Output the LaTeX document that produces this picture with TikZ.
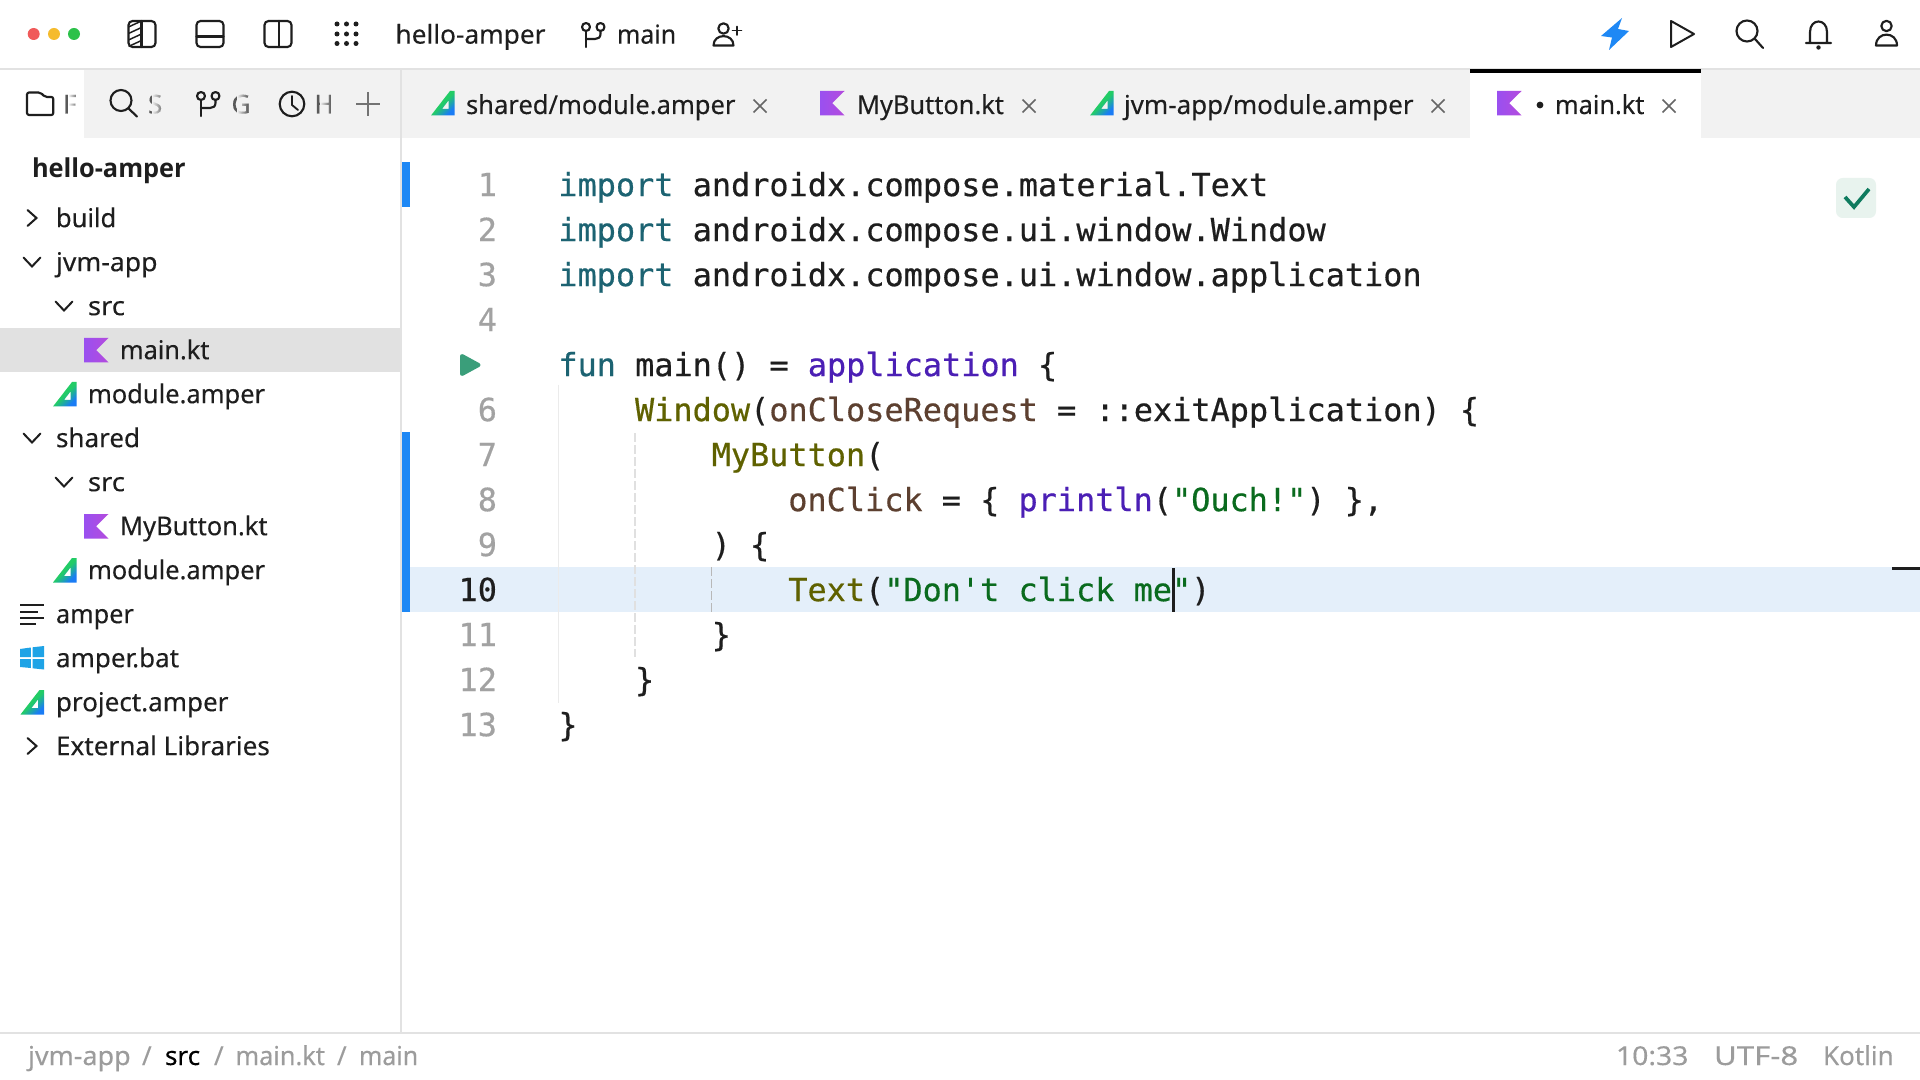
\documentclass[tikz,border=0pt]{standalone}
\usepackage{graphicx}
\usepackage{fontspec}
\usetikzlibrary{fadings}
\setmainfont{Noto Sans}
\newfontfamily\uifont{Noto Sans}[FakeBold=0.2]
\newfontfamily\uibold{Open Sans}
\newfontfamily\codefont{DejaVu Sans Mono}[FakeBold=0.5]
\definecolor{tabbg}{HTML}{F2F2F2}
\definecolor{sep}{HTML}{E2E2E2}
\definecolor{ink}{HTML}{1E1E1E}
\definecolor{gray1}{HTML}{9C9C9C}
\definecolor{lineno}{HTML}{A2A2A2}
\definecolor{barblue}{HTML}{1E88F5}
\definecolor{band}{HTML}{E4EFFA}
\definecolor{selrow}{HTML}{E1E1E1}
\definecolor{kw}{HTML}{1C6372}
\definecolor{fn}{HTML}{4B1FB5}
\definecolor{cl}{HTML}{5F6100}
\definecolor{pm}{HTML}{5D4030}
\definecolor{st}{HTML}{0A6B1E}
\definecolor{agreen}{HTML}{22CC66}
\definecolor{ablue}{HTML}{1A7CF5}
\definecolor{HKa}{HTML}{9A50F0}
\definecolor{HKb}{HTML}{B44BDD}
\definecolor{tlred}{HTML}{F05A5A}
\definecolor{tlyel}{HTML}{F5BB2D}
\definecolor{tlgrn}{HTML}{2CC14A}
\definecolor{winblue}{HTML}{1EA3E6}
\definecolor{rungreen}{HTML}{3A9E7A}
\definecolor{okbg}{HTML}{E8F3EE}
\definecolor{okfg}{HTML}{0F7B5F}
\pgfdeclareverticalshading{amp}{100bp}{color(0bp)=(ablue); color(27bp)=(ablue); color(38bp)=(agreen!50!ablue); color(50bp)=(agreen); color(100bp)=(agreen)}
\tikzset{
  uitext/.style={anchor=base west,inner sep=0pt,outer sep=0pt,text=ink,font=\uifont\fontsize{19.5}{24}\selectfont},
  codetext/.style={anchor=base west,inner sep=0pt,outer sep=0pt,text=ink,font=\codefont\fontsize{23.9}{28}\selectfont\frenchspacing},
  numtext/.style={anchor=base east,inner sep=0pt,outer sep=0pt,text=lineno,font=\codefont\fontsize{23.9}{28}\selectfont},
  icon/.style={draw=ink,line width=1.6pt,line join=round,line cap=round},
  chev/.style={draw=ink,line width=1.5pt,line join=miter,line cap=round},
  closex/.style={draw=black!60,line width=1.1pt},
}
\newcommand\uiT[5][]{\node[uitext,#1] (#2) at (#3,#4) {#5};}
\newcommand\sx[2]{\scalebox{#1}[1]{#2}}
\newcommand\codeL[3]{\node[codetext] (code#1) at ({558.4+19.16*#2},{196.1+45*(#1-1)}) {#3};}
\newcommand\numL[1]{\node[numtext] (num#1) at (497,{196.1+45*(#1-1)}) {#1};}
\newcommand\chevR[2]{\draw[chev] (#1-4.5,#2-8) -- (#1+4.5,#2) -- (#1-4.5,#2+8);}
\newcommand\chevD[2]{\draw[chev] (#1-8.5,#2-4.5) -- (#1,#2+4.5) -- (#1+8.5,#2-4.5);}
\newcommand\kicon[2]{\begin{scope}[shift={(#1,#2)}]\shade[left color=HKa,right color=HKb] (0,0) -- (24.5,0) -- (12.2,12.2) -- (24.5,24.5) -- (0,24.5) -- cycle;\end{scope}}
\newcommand\aicon[2]{\begin{scope}[shift={(#1,#2)}]\shade[even odd rule,shading=amp,shading angle=45] (0,24.5) -- (19,0) -- (23.5,0) -- (23.5,24.5) -- cycle (11,18) -- (17.5,9.5) -- (17.5,18) -- cycle;\end{scope}}
\newcommand\xicon[2]{\draw[closex] (#1-6.5,#2-6.5) -- (#1+6.5,#2+6.5) (#1-6.5,#2+6.5) -- (#1+6.5,#2-6.5);}
\newcommand\branch[2]{\begin{scope}[shift={(#1,#2)}]
  \draw[icon] (0,0) circle[radius=4];
  \draw[icon] (14.5,0) circle[radius=4];
  \draw[icon] (0,4) -- (0,20);
  \draw[icon] (14.5,4) -- (14.5,7) .. controls (14.5,10.5) and (12,12) .. (9,12) -- (0,12);
\end{scope}}
\begin{document}
\begin{tikzpicture}[x=0.75pt,y=-0.75pt]
\useasboundingbox (0,0) rectangle (1920,1080);
\fill[white] (0,0) rectangle (1920,1080);
% bands
\fill[tabbg] (84,70) rectangle (1920,138);
\fill[white] (1470,70) rectangle (1701,138);
\fill[selrow] (0,328) rectangle (401,372);
\fill[band] (410,567) rectangle (1920,612);
% separators
\fill[sep] (0,68) rectangle (1920,70.5);
\fill[sep] (400,70) rectangle (402,1032);
\fill[sep] (0,1031.5) rectangle (1920,1034);
\fill[black] (1470,69) rectangle (1701,73.5);
% change bars
\fill[barblue] (402,162) rectangle (410,207);
\fill[barblue] (402,432) rectangle (410,612);
% traffic lights
\fill[tlred] (33.7,34) circle[radius=6];
\fill[tlyel] (54,34) circle[radius=6];
\fill[tlgrn] (74,34) circle[radius=6];
% panel icons
\draw[icon,rounded corners=3pt] (128.5,21) rectangle (155.5,47);
\draw[icon] (141.5,21) -- (141.5,47);
\begin{scope}
\clip (128.5,21) rectangle (141.5,47);
\foreach \hy in {27,33.5,40,46.5,53}{\draw[draw=ink,line width=1.1pt] (128.5,\hy) -- (141.5,\hy-6);}
\end{scope}
\draw[icon,rounded corners=3pt] (196.5,21) rectangle (223.5,47);
\draw[icon] (196.5,36.5) -- (223.5,36.5);
\draw[icon,rounded corners=3pt] (264.5,21) rectangle (291.5,47);
\draw[icon] (279,21) -- (279,47);
\foreach \gx in {337,346.5,356}{\foreach \gy in {24,34,43.5}{\fill[ink] (\gx,\gy) circle[radius=2.5];}}
\uiT{title}{395.5}{43.6}{\sx{1.01}{hello-amper}}
\branch{586}{27}
\uiT{branchname}{617}{43.6}{\sx{0.96}{main}}
% add person
\draw[icon] (723.5,28.5) circle[radius=5.2];
\draw[icon] (713.5,45.5) .. controls (713.5,33) and (733.5,33) .. (733.5,45.5) -- cycle;
\draw[icon,line width=1.2pt] (737,26.5) -- (737,35) (732.5,30.7) -- (741.5,30.7);
% right icons
\fill[barblue] (1622,18) -- (1601,36) -- (1612,37.5) -- (1609,50) -- (1629,31) -- (1618,29) -- cycle;
\draw[icon,line width=1.5pt] (1671,21) -- (1694,34) -- (1671,47) -- cycle;
\draw[icon] (1747,31) circle[radius=10.5];
\draw[icon] (1755,39) -- (1763,48);
\draw[icon] (1806,43) -- (1831,43) (1810,43) -- (1810,32) .. controls (1810,18) and (1827,18) .. (1827,32) -- (1827,43);
\fill[ink] (1818.5,47.5) circle[radius=2.2];
\draw[icon] (1886.5,26) circle[radius=5.2];
\draw[icon] (1876,45.5) .. controls (1876,31) and (1897,31) .. (1897,45.5) -- cycle;
% sidebar tabs
\draw[icon,rounded corners=1.5pt] (27,115) -- (27,92.5) -- (40.5,92.5) -- (45,97) -- (53.3,97) -- (53.3,115) -- cycle;
\uiT[text=black!65]{tabF}{63}{113.5}{F}
\fill[white,path fading=east] (68,90) rectangle (78,118);
\fill[white] (78,90) rectangle (84,118);
\draw[icon] (121,100.5) circle[radius=10.5];
\draw[icon] (128.5,108.5) -- (137,116.5);
\uiT[text=black!65]{tabS}{148}{113.5}{S}
\fill[tabbg,path fading=east] (152,90) rectangle (164,118);
\branch{201}{96}
\uiT[text=black!65]{tabG}{231.5}{113.5}{G}
\fill[tabbg,path fading=east] (237,90) rectangle (248,118);
\draw[icon] (292,104) circle[radius=12.3];
\draw[icon,line width=1.4pt] (292,96) -- (292,105) -- (298,110);
\uiT[text=black!65]{tabH}{314.5}{113.5}{H}
\fill[tabbg,path fading=east] (320,90) rectangle (331,118);
\fill[tabbg] (331,90) rectangle (340,118);
\draw[draw=black!55,line width=1.2pt] (368,92) -- (368,116) (356,104) -- (380,104);
% editor tabs
\aicon{431}{91}
\uiT{tabA}{466}{114}{\sx{0.982}{shared/module.amper}}
\xicon{760}{106}
\kicon{820}{91}
\uiT{tabB}{857}{114}{\sx{0.976}{MyButton.kt}}
\xicon{1029}{106}
\aicon{1090}{91}
\uiT{tabC}{1124}{114}{jvm-app/module.amper}
\xicon{1438}{106}
\kicon{1497}{91}
\fill[ink] (1540,105) circle[radius=3.4];
\uiT{tabD}{1555}{114}{\sx{0.973}{main.kt}}
\xicon{1669}{106}
% tree
\node[uitext,font=\uibold\bfseries\fontsize{19.5}{24}\selectfont] (root) at (32,177.2) {\sx{0.975}{hello-amper}};
\chevR{32}{218}
\uiT{t1}{56}{227.2}{\sx{0.98}{build}}
\chevD{32}{262}
\uiT{t2}{56}{271.2}{\sx{1.024}{jvm-app}}
\chevD{64}{306}
\uiT{t3}{88}{315.2}{\sx{1.05}{src}}
\kicon{84}{338}
\uiT{t4}{120}{359.2}{\sx{0.973}{main.kt}}
\aicon{53}{382}
\uiT{t5}{88}{403.2}{\sx{0.98}{module.amper}}
\chevD{32}{438}
\uiT{t6}{56}{447.2}{shared}
\chevD{64}{482}
\uiT{t7}{88}{491.2}{\sx{1.05}{src}}
\kicon{84}{514}
\uiT{t8}{120}{535.2}{\sx{0.98}{MyButton.kt}}
\aicon{53}{558}
\uiT{t9}{88}{579.2}{\sx{0.98}{module.amper}}
\draw[draw=ink,line width=1.5pt] (20,605) -- (44,605) (20,611.5) -- (38,611.5) (20,618) -- (44,618) (20,624) -- (36,624);
\uiT{t10}{56}{623.2}{\sx{0.97}{amper}}
% windows icon
\fill[winblue] (20,649) -- (30.8,647.5) -- (30.8,657.2) -- (20,657.2) -- cycle
  (32.6,647.3) -- (44,646) -- (44,657.2) -- (32.6,657.2) -- cycle
  (20,659) -- (30.8,659) -- (30.8,668) -- (20,667) -- cycle
  (32.6,659) -- (44,659) -- (44,669.5) -- (32.6,668.3) -- cycle;
\uiT{t11}{56}{667.2}{amper.bat}
\aicon{20.5}{690}
\uiT{t12}{56}{711.2}{project.amper}
\chevR{32}{746}
\uiT{t13}{56}{755.2}{\sx{1.005}{External Libraries}}
% indent guides
\draw[draw=black!8,line width=0.9pt] (558.5,385) -- (558.5,703);
\draw[draw=black!12,line width=0.9pt,dash pattern=on 7pt off 2pt] (635,433) -- (635,657);
\draw[draw=black!28,line width=1pt,dash pattern=on 7pt off 2pt] (711.5,567) -- (711.5,612);
% line numbers
\foreach \n in {1,2,3,4,6,7,8,9,11,12,13}{\numL{\n}}
\node[numtext,text=ink] (num10) at (497,601.1) {10};
% run gutter icon
\draw[fill=rungreen,draw=rungreen,line width=3pt,line join=round] (462,356) -- (478.5,365) -- (462,374) -- cycle;
% code
\codeL{1}{0}{\textcolor{kw}{import} androidx.compose.material.Text}
\codeL{2}{0}{\textcolor{kw}{import} androidx.compose.ui.window.Window}
\codeL{3}{0}{\textcolor{kw}{import} androidx.compose.ui.window.application}
\codeL{5}{0}{\textcolor{kw}{fun} main() = \textcolor{fn}{application} \{}
\codeL{6}{4}{\textcolor{cl}{Window}(\textcolor{pm}{onCloseRequest} = ::exitApplication) \{}
\codeL{7}{8}{\textcolor{cl}{MyButton}(}
\codeL{8}{12}{\textcolor{pm}{onClick} = \{ \textcolor{fn}{println}(\textcolor{st}{"Ouch!"}) \},}
\codeL{9}{8}{) \{}
\codeL{10}{12}{\textcolor{cl}{Text}(\textcolor{st}{"Don't click me"})}
\codeL{11}{8}{\}}
\codeL{12}{4}{\}}
\codeL{13}{0}{\}}
% caret
\fill[ink] (1172,568) rectangle (1175.2,612);
% error stripe
\fill[ink] (1892,567) rectangle (1920,570);
% check
\fill[okbg,rounded corners=5pt] (1836,178) rectangle (1876,218);
\draw[draw=okfg,line width=2.8pt,line join=miter] (1845,197) -- (1854,207) -- (1869,189);
% status
\uiT[text=gray1]{s1}{28}{1065}{\sx{1.036}{jvm-app}}
\uiT[text=gray1]{s2}{142}{1065}{/}
\uiT[text=black]{s3}{165}{1065}{src}
\uiT[text=gray1]{s4}{214}{1065}{/}
\uiT[text=gray1]{s5}{235.5}{1065}{\sx{0.973}{main.kt}}
\uiT[text=gray1]{s6}{337}{1065}{/}
\uiT[text=gray1]{s7}{359}{1065}{\sx{0.96}{main}}
\uiT[text=gray1]{s8}{1616}{1065}{\sx{1.09}{10:33}}
\uiT[text=gray1]{s9}{1714}{1065}{\sx{1.2}{UTF-8}}
\uiT[text=gray1]{s10}{1823}{1065}{Kotlin}
\end{tikzpicture}
\end{document}
